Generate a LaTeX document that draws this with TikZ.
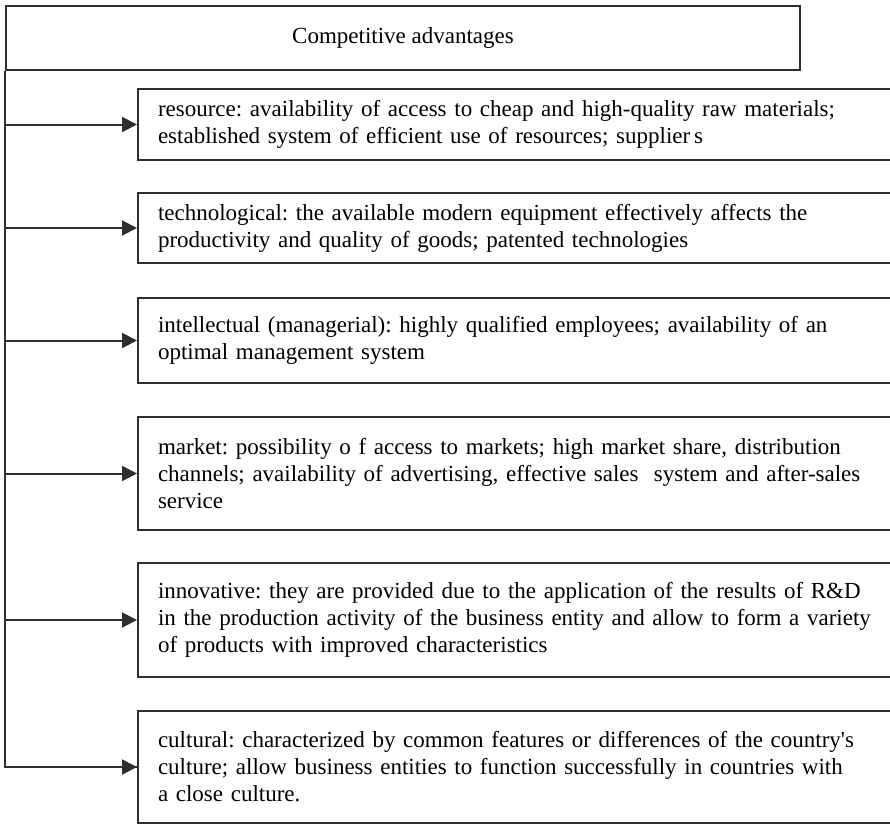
\documentclass[tikz,border=0pt]{standalone}
\usepackage{fontspec}
\setmainfont{Liberation Serif}
\usepackage{tikz}
\usetikzlibrary{positioning,arrows.meta}
\definecolor{linecolor}{HTML}{2E2E2E}
\frenchspacing

\begin{document}
\begin{tikzpicture}[
    x=1pt, y=-1pt,
    head/.style={draw=linecolor, line width=2pt, minimum width=794pt, minimum height=64pt, inner sep=0pt, font=\fontsize{23}{27}\selectfont},
    adv/.style={draw=linecolor, line width=2pt, minimum width=762pt, text width=722pt, inner xsep=20pt, inner ysep=0pt, align=left, font=\fontsize{23}{27}\selectfont},
    link/.style={-{Triangle[length=15pt,width=15pt]}, draw=linecolor, line width=2pt},
  ]
  \useasboundingbox (0,0) rectangle (890,824);
  \clip (0,0) rectangle (890,824);
  \node[head] (top) at (403,38) {Competitive advantages};
  \node[adv, minimum height=71pt] (res) at (519,124.5) {resource: availability of access to cheap and high-quality raw materials;\\established system of efficient use of resources; supplier\,s};
  \node[adv, minimum height=70pt] (tech) at (519,228) {technological: the available modern equipment effectively affects the\\productivity and quality of goods; patented technologies};
  \node[adv, minimum height=85pt] (intel) at (519,340.5) {intellectual (managerial): highly qualified employees; availability of an\\optimal management system};
  \node[adv, minimum height=113pt] (mark) at (519,473.5) {market: possibility o f access to markets; high market share, distribution\\channels; availability of advertising, effective sales~ system and after-sales\\service};
  \node[adv, minimum height=114pt] (innov) at (519,620) {innovative: they are provided due to the application of the results of R\&D\\in the production activity of the business entity and allow to form a variety\\of products with improved characteristics};
  \node[adv, minimum height=112pt] (cult) at (519,767) {cultural: characterized by common features or differences of the country\textquotesingle s\\culture; allow business entities to function successfully in countries with\\a close culture.};
  \draw[draw=linecolor, line width=2pt] (top.south west) -- (top.south west |- cult.west) -- (cult.west);
  \draw[link] (top.south west |- cult.west) -- (cult.west);
  \draw[link] (top.south west |- res.west) -- (res.west);
  \draw[link] (top.south west |- tech.west) -- (tech.west);
  \draw[link] (top.south west |- intel.west) -- (intel.west);
  \draw[link] (top.south west |- mark.west) -- (mark.west);
  \draw[link] (top.south west |- innov.west) -- (innov.west);
\end{tikzpicture}
\end{document}
